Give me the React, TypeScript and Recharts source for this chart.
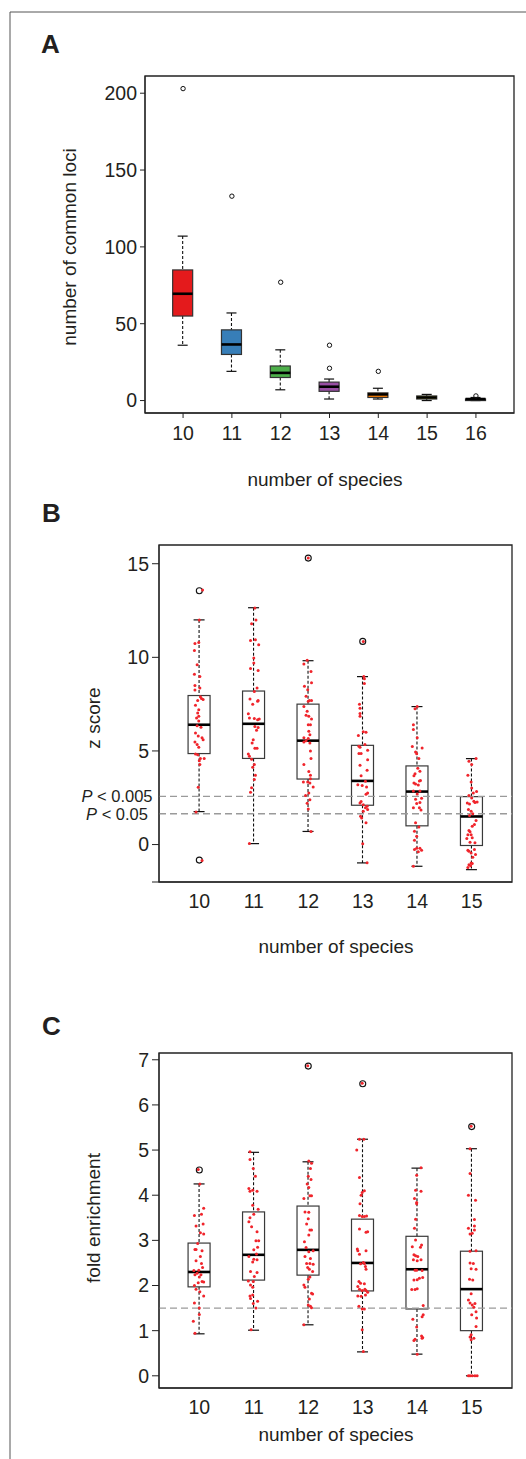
import React from "react";
import { ComposedChart, Bar, Scatter, XAxis, YAxis, ReferenceLine, ReferenceArea } from "recharts";

const FONT = '"Liberation Sans", Arial, Helvetica, sans-serif';
const INK = "#231F20";

// panel A: number of common loci
const speciesA = ["10", "11", "12", "13", "14", "15", "16"];
const lociLow = [36, 19, 7, 1, 1, 0, 0];
const lociQ1 = [55, 30, 15, 6, 2, 1, 0];
const lociMedian = [69.5, 36.5, 18, 9, 4, 2, 1];
const lociQ3 = [85, 46, 22.5, 12, 5, 3, 1];
const lociHigh = [107, 57, 33, 14, 8, 4, 2];
const lociOutliers = [[203], [133], [77], [21, 36], [19], [], [3]];
const lociColors = ["#E41A1C", "#377EB8", "#4DAF4A", "#984EA3", "#FF7F00", "#FFFF33", "#A65628"];

// panels B and C share the categories
const speciesBC = ["10", "11", "12", "13", "14", "15"];

// panel B: z score
const zLow = [1.76, 0.05, 0.7, -0.98, -1.16, -1.34];
const zQ1 = [4.86, 4.6, 3.5, 2.1, 1.0, -0.05];
const zMedian = [6.4, 6.45, 5.55, 3.4, 2.83, 1.5];
const zQ3 = [7.96, 8.2, 7.5, 5.3, 4.2, 2.56];
const zHigh = [12.0, 12.65, 9.82, 8.97, 7.37, 4.59];
const zOutliers = [[13.56, -0.83], [], [15.3], [10.85], [], []];
const zThresholds = [2.576, 1.645];
// [jitter, z]
const zPoints = [
  [[0.06,13.6],[0,12.0],[-0.08,10.74],[-0.01,10.79],[-0.09,10.36],[-0.04,9.6],[-0.09,9.1],[0.01,8.97],[-0.08,8.5],[-0.08,8.25],[0.01,8.36],[0.02,7.9],[-0.03,7.7],[0.04,7.8],[0.07,7.75],[-0.07,7.44],[-0.01,7.2],[-0.03,7.03],[-0.01,6.85],[-0.05,6.76],[-0.01,6.6],[-0.04,6.35],[0.03,6.27],[-0.07,5.96],[-0.02,5.8],[0.05,5.7],[0.07,5.6],[-0.08,5.48],[-0.04,5.34],[-0.01,5.2],[-0.07,4.84],[-0.03,4.8],[0.02,4.6],[0.09,4.6],[0,4.48],[0.01,4.27],[-0.02,3.06],[-0.06,1.74],[0.05,-0.85]],
  [[0.02,12.64],[-0.04,11.8],[0.04,12.0],[-0.06,10.9],[0.03,10.94],[0.09,10.67],[0,9.96],[0,9.7],[-0.06,9.4],[0.08,9.3],[0.06,8.36],[0.01,8.18],[-0.07,7.77],[0.08,7.7],[-0.02,7.5],[0.07,7.65],[-0.1,6.98],[-0.08,6.76],[0.01,6.73],[0.07,6.67],[0.1,6.7],[0.02,6.3],[0.08,6.25],[0.05,6.1],[-0.01,5.6],[-0.03,5.43],[0.02,5.14],[0.06,5.14],[-0.1,4.84],[-0.08,4.72],[-0.04,4.55],[0.01,4.27],[-0.02,4.13],[0.03,3.7],[0.01,3.47],[-0.04,3.03],[-0.06,2.8],[-0.08,0.05]],
  [[0,15.3],[-0.02,9.84],[-0.08,9.64],[0.05,9.25],[-0.07,8.46],[0.06,8.64],[-0.01,8.27],[-0.04,7.92],[0,7.65],[0.02,7.69],[0.06,7.69],[-0.08,7.38],[-0.02,7.12],[-0.04,6.9],[0.01,6.85],[0.06,6.7],[0,6.4],[0.04,6.4],[0.01,6.05],[0.03,5.87],[-0.08,5.7],[-0.04,5.55],[0,5.66],[0.03,5.43],[-0.08,5.48],[0.04,5.0],[0.05,4.6],[-0.08,4.27],[0.01,3.9],[0.04,3.7],[-0.09,3.34],[-0.01,3.34],[0.04,3.52],[0.03,3.29],[0.09,3.07],[0.01,2.75],[-0.05,2.62],[0.03,2.39],[-0.02,2.2],[0,1.9],[0.05,0.7]],
  [[0.01,10.85],[0.02,8.97],[0.03,8.85],[0.03,8.6],[-0.06,7.5],[-0.05,7.28],[-0.05,7.0],[-0.05,6.85],[-0.08,5.83],[0.06,6.0],[0.01,6.03],[-0.07,5.25],[-0.05,5.2],[0.04,5.34],[0.09,5.04],[-0.07,4.86],[-0.03,4.86],[0.09,4.53],[-0.05,4.23],[-0.03,3.68],[0.08,3.97],[-0.09,3.2],[-0.01,3.16],[0.05,3.38],[0.07,3.07],[0.09,2.75],[0.06,2.69],[-0.03,2.3],[-0.05,2.22],[0.01,2.13],[0.08,2.04],[0.05,1.96],[0.09,1.87],[0.01,1.78],[-0.04,1.51],[-0.02,1.42],[0.06,1.16],[0,0.04],[0.08,-0.97]],
  [[0,7.38],[-0.04,7.25],[-0.07,6.4],[-0.07,6.15],[0,5.7],[-0.09,5.24],[-0.03,4.94],[0.09,5.16],[-0.01,4.85],[0.03,4.6],[0.01,4.07],[-0.04,3.78],[-0.06,3.67],[-0.03,3.23],[-0.06,3.29],[0.05,3.92],[0.06,3.42],[0.04,3.4],[0.02,3.18],[-0.07,2.86],[0.05,2.86],[0,2.7],[-0.03,2.42],[0.08,2.47],[0.05,2.24],[-0.01,2.19],[-0.07,1.97],[0.04,1.97],[0.07,1.85],[-0.03,1.16],[0.03,0.94],[-0.05,0.71],[-0.01,0.44],[-0.05,0.23],[-0.01,-0.2],[-0.05,-0.27],[0.05,-0.2],[0.08,-0.3],[0.02,-0.38],[-0.07,-1.16]],
  [[0.08,4.59],[-0.05,4.45],[0,4.27],[-0.07,3.7],[-0.01,3.34],[0,3.02],[0.03,2.75],[0.09,2.84],[-0.05,2.62],[0,2.48],[0.06,2.25],[-0.08,2.22],[-0.04,2.17],[0.04,2.31],[0.1,2.27],[-0.06,1.87],[-0.01,1.78],[0.02,1.64],[-0.04,1.55],[0.08,1.28],[0.05,1.07],[0.01,0.98],[-0.05,0.75],[-0.03,0.68],[-0.07,0.53],[-0.01,0.53],[0.01,0.36],[-0.09,0.32],[-0.03,0.12],[0.06,0.09],[-0.07,-0.3],[-0.05,-0.36],[-0.01,-0.45],[0.07,-0.53],[0.02,-0.68],[0.05,-0.27],[-0.01,-0.99],[-0.05,-1.08],[-0.02,-1.13],[-0.07,-1.22],[0.01,-1.01]],
];

// panel C: fold enrichment
const foldLow = [0.93, 1.01, 1.13, 0.53, 0.48, 0];
const foldQ1 = [1.97, 2.12, 2.23, 1.88, 1.48, 1.0];
const foldMedian = [2.3, 2.68, 2.79, 2.5, 2.36, 1.92];
const foldQ3 = [2.94, 3.63, 3.76, 3.47, 3.09, 2.76];
const foldHigh = [4.25, 4.95, 4.74, 5.24, 4.6, 5.03];
const foldOutliers = [[4.56], [], [6.86], [6.47], [], [5.52]];
const foldThreshold = 1.5;
const foldPoints = [
  [[-0.02,4.57],[0.01,4.25],[0.08,3.71],[-0.09,3.55],[0.04,3.58],[-0.06,3.32],[0.07,3.36],[0.02,3.17],[0.08,3.14],[-0.03,2.93],[-0.08,2.8],[-0.06,2.8],[0.05,2.77],[0.02,2.64],[0.04,2.49],[-0.06,2.55],[0.06,2.4],[-0.1,2.33],[-0.01,2.34],[-0.08,2.24],[-0.04,2.27],[0,2.19],[0.03,2.24],[-0.02,2.06],[-0.09,2.0],[0.05,2.09],[0.08,2.08],[-0.06,1.92],[0.01,1.86],[0.08,1.77],[-0.09,1.61],[0,1.5],[0,1.36],[-0.11,1.21],[-0.08,0.94]],
  [[-0.07,4.96],[-0.07,4.79],[-0.01,4.59],[0.03,4.42],[-0.09,4.15],[-0.02,4.11],[0.06,4.09],[-0.07,4.09],[-0.02,3.78],[0.08,3.69],[0,3.58],[-0.07,3.5],[-0.09,3.41],[-0.04,3.3],[0.06,3.19],[0.04,2.99],[0.09,2.99],[0.07,2.85],[0,2.79],[0.05,2.7],[-0.09,2.64],[0,2.58],[0.06,2.57],[-0.02,2.52],[-0.06,2.31],[0.06,2.29],[0.01,2.2],[-0.01,2.09],[-0.1,2.1],[-0.06,2.01],[-0.02,1.96],[-0.07,1.77],[-0.02,1.79],[-0.06,1.71],[-0.01,1.6],[0.07,1.65],[0.04,1.5],[-0.05,1.02]],
  [[-0.01,6.87],[0.01,4.76],[0.06,4.71],[0.04,4.59],[0,4.42],[0.05,4.35],[-0.02,4.25],[0.01,4.17],[-0.08,3.93],[0.03,3.99],[0.06,3.99],[-0.06,3.63],[0.01,3.62],[0,3.48],[-0.03,3.36],[0.03,3.23],[0.06,3.23],[0.01,3.12],[-0.07,2.97],[-0.04,2.84],[0.01,2.75],[0.09,2.77],[-0.06,2.64],[0.04,2.6],[-0.03,2.49],[0.03,2.49],[0.09,2.47],[-0.01,2.4],[0.02,2.36],[0.08,2.31],[0.03,2.19],[0,2.14],[-0.08,2.01],[-0.06,1.96],[0.06,1.83],[0.08,1.81],[0.02,1.7],[0,1.57],[0.04,1.54],[0.06,1.51],[-0.08,1.13]],
  [[-0.01,6.48],[-0.06,5.24],[0.02,5.24],[-0.11,5.0],[-0.06,4.39],[0.03,4.1],[-0.01,4.06],[-0.03,4.0],[-0.05,3.81],[-0.06,3.55],[-0.01,3.53],[0.03,3.53],[0.07,3.54],[-0.06,3.25],[0.06,3.18],[0.09,3.19],[-0.1,2.81],[-0.09,2.77],[0.06,2.77],[-0.06,2.69],[0.01,2.51],[0.03,2.49],[-0.04,2.48],[0.05,2.42],[0.06,2.36],[-0.07,2.09],[-0.04,2.05],[-0.09,1.98],[0.03,2.04],[-0.06,1.92],[0.04,1.92],[-0.01,1.89],[0.06,1.89],[0.09,1.85],[-0.03,1.76],[-0.09,1.77],[0.05,1.79],[-0.07,1.54],[-0.01,1.48],[0.03,1.48],[-0.01,1.02],[0.01,0.54]],
  [[0.07,4.61],[-0.01,4.44],[-0.03,4.11],[0.07,4.09],[-0.05,3.93],[-0.01,3.84],[-0.01,3.81],[-0.03,3.47],[-0.05,3.27],[-0.03,3.01],[-0.09,2.86],[0.08,2.9],[0.06,2.85],[-0.06,2.68],[-0.03,2.66],[0.01,2.64],[-0.07,2.57],[0,2.55],[0.07,2.57],[-0.04,2.34],[-0.01,2.34],[0.09,2.33],[-0.06,2.12],[0,2.13],[0.04,2.16],[0.1,2.18],[-0.1,1.91],[-0.04,1.91],[0,1.93],[0.11,1.56],[-0.08,1.25],[0.09,1.31],[0.11,1.35],[-0.01,1.08],[-0.04,0.81],[-0.06,0.78],[0.08,0.88],[0.1,0.85],[0.09,0.83],[0,0.48]],
  [[-0.01,5.53],[-0.03,5.03],[-0.03,4.48],[-0.06,4.0],[0.07,3.89],[0.05,3.46],[-0.06,3.27],[0.05,3.32],[0.05,3.23],[0.01,3.16],[-0.03,3.14],[0.08,2.77],[-0.03,2.76],[-0.03,2.5],[0.03,2.49],[-0.01,2.37],[0.08,2.36],[-0.04,2.14],[0.02,2.12],[-0.01,1.82],[-0.06,1.68],[-0.03,1.61],[0.01,1.57],[0.06,1.6],[0.04,1.52],[0.08,1.42],[0,1.35],[0.09,1.28],[0.08,1.09],[-0.01,0.91],[-0.03,0.86],[-0.01,0.8],[0.04,0.83],[-0.06,0],[-0.03,0],[0.01,0],[0.06,0],[0.1,0]],
];

const boxRows = (low: number[], q1: number[], med: number[], q3: number[], high: number[], colors?: string[]) =>
  low.map((lo, i) => ({
    pos: i + 1,
    range: [lo, high[i]],
    lo,
    q1: q1[i],
    med: med[i],
    q3: q3[i],
    hi: high[i],
    color: colors ? colors[i] : "none",
  }));

const outlierRows = (groups: number[][]) => groups.flatMap((vals, i) => vals.map((value) => ({ pos: i + 1, value })));
const pointRows = (groups: number[][][]) => groups.flatMap((pts, i) => pts.map(([dx, value]) => ({ pos: i + 1 + dx, value })));

function BoxShape(props: any) {
  const { x, y, width, height, payload, boxStroke } = props;
  if (!payload) return null;
  const { lo, q1, med, q3, hi, color } = payload;
  const top = Math.min(y, y + height);
  const h = Math.abs(height);
  const span = hi - lo || 1;
  const py = (v: number) => top + (h * (hi - v)) / span;
  const cx = x + width / 2;
  const cap = width / 4;
  return (
    <g>
      <line x1={cx} x2={cx} y1={py(hi)} y2={py(q3)} stroke="#111" strokeWidth={1.1} strokeDasharray="3 2" />
      <line x1={cx} x2={cx} y1={py(q1)} y2={py(lo)} stroke="#111" strokeWidth={1.1} strokeDasharray="3 2" />
      <line x1={cx - cap} x2={cx + cap} y1={py(hi)} y2={py(hi)} stroke="#111" strokeWidth={1.2} />
      <line x1={cx - cap} x2={cx + cap} y1={py(lo)} y2={py(lo)} stroke="#111" strokeWidth={1.2} />
      <rect x={x} y={py(q3)} width={width} height={Math.max(py(q1) - py(q3), 0.5)} fill={color} stroke={boxStroke} strokeWidth={1.2} />
      <line x1={x} x2={x + width} y1={py(med)} y2={py(med)} stroke="#000" strokeWidth={2.6} />
    </g>
  );
}

const RedDot = (p: any) => <circle cx={p.cx} cy={p.cy} r={1.5} fill="#F0242B" />;
const SmallRing = (p: any) => <circle cx={p.cx} cy={p.cy} r={2.2} fill="none" stroke="#111" strokeWidth={1} />;
const Ring = (p: any) => <circle cx={p.cx} cy={p.cy} r={3} fill="none" stroke="#111" strokeWidth={1.1} />;

const tickStyle = { fontSize: 19.5, fill: INK, fontFamily: FONT };

function PanelA() {
  const domainX: [number, number] = [0.22, 7.78];
  const domainY: [number, number] = [-8.1, 211.2];
  return (
    <ComposedChart width={526} height={500} data={boxRows(lociLow, lociQ1, lociMedian, lociQ3, lociHigh, lociColors)} margin={{ top: 76, right: 12, bottom: 37, left: 65 }}>
      <XAxis dataKey="pos" type="number" domain={domainX} ticks={[1, 2, 3, 4, 5, 6, 7]} allowDataOverflow tickFormatter={(v) => speciesA[v - 1]} tick={tickStyle} tickSize={5} tickMargin={8} height={50} stroke="#222" />
      <XAxis xAxisId="box" dataKey="pos" type="number" domain={domainX} ticks={[1, 2, 3, 4, 5, 6, 7]} allowDataOverflow hide />
      <YAxis type="number" domain={domainY} ticks={[0, 50, 100, 150, 200]} allowDataOverflow tick={tickStyle} tickSize={5} tickMargin={3} width={80} stroke="#222" />
      <ReferenceArea x1={domainX[0]} x2={domainX[1]} y1={domainY[0]} y2={domainY[1]} fill="none" stroke="#222" strokeWidth={1.3} fillOpacity={0} />
      <Bar xAxisId="box" dataKey="range" barSize={20} isAnimationActive={false} shape={(p: any) => <BoxShape {...p} boxStroke="#333" />} />
      <Scatter data={outlierRows(lociOutliers)} dataKey="value" shape={SmallRing} isAnimationActive={false} />
    </ComposedChart>
  );
}

function PanelBC({ low, q1, med, q3, high, outliers, points, domainY, ticks, thresholds, top, height, marginTop, marginBottom }: any) {
  const domainX: [number, number] = [0.26, 6.74];
  return (
    <div style={{ position: "absolute", left: 0, top }}>
      <ComposedChart width={526} height={height} data={boxRows(low, q1, med, q3, high)} margin={{ top: marginTop, right: 14, bottom: marginBottom, left: 79 }}>
        <XAxis dataKey="pos" type="number" domain={domainX} ticks={[1, 2, 3, 4, 5, 6]} allowDataOverflow tickFormatter={(v) => speciesBC[v - 1]} tick={tickStyle} tickLine={false} tickSize={0} tickMargin={12} height={30} stroke="#222" />
        <XAxis xAxisId="box" dataKey="pos" type="number" domain={domainX} ticks={[1, 2, 3, 4, 5, 6]} allowDataOverflow hide />
        <YAxis type="number" domain={domainY} ticks={ticks} allowDataOverflow tickFormatter={(v) => (v < 0 ? "" : String(v))} tick={tickStyle} tickSize={7} tickMargin={3} width={80} stroke="#222" />
        <ReferenceArea x1={domainX[0]} x2={domainX[1]} y1={domainY[0]} y2={domainY[1]} fill="none" stroke="#222" strokeWidth={1.3} fillOpacity={0} />
        {thresholds.map((t: number) => (
          <ReferenceLine key={t} y={t} stroke="#9A9A9A" strokeWidth={1.3} strokeDasharray="7 4" />
        ))}
        <Bar xAxisId="box" dataKey="range" barSize={22} isAnimationActive={false} shape={(p: any) => <BoxShape {...p} boxStroke="#3a3a3a" />} />
        <Scatter data={outlierRows(outliers)} dataKey="value" shape={Ring} isAnimationActive={false} />
        <Scatter data={pointRows(points)} dataKey="value" shape={RedDot} isAnimationActive={false} />
      </ComposedChart>
    </div>
  );
}

function Labels() {
  const t = { fontFamily: FONT, fill: INK } as const;
  return (
    <svg width={526} height={1459} style={{ position: "absolute", left: 0, top: 0, pointerEvents: "none" }}>
      <line x1={10} y1={12} x2={526} y2={12} stroke="#555" strokeWidth={1} />
      <line x1={10} y1={12} x2={10} y2={1459} stroke="#555" strokeWidth={1} />
      <text x={41} y={53} fontSize={26} fontWeight="bold" {...t}>A</text>
      <text x={42} y={522} fontSize={26} fontWeight="bold" {...t}>B</text>
      <text x={42} y={1035} fontSize={26} fontWeight="bold" {...t}>C</text>
      <text x={76} y={247} fontSize={19} textAnchor="middle" transform="rotate(-90 76 247)" {...t}>number of common loci</text>
      <text x={325} y={486} fontSize={19} textAnchor="middle" {...t}>number of species</text>
      <text x={100} y={718} fontSize={19} textAnchor="middle" transform="rotate(-90 100 718)" {...t}>z score</text>
      <text x={336} y={953} fontSize={19} textAnchor="middle" {...t}>number of species</text>
      <text x={100} y={1218} fontSize={19} textAnchor="middle" transform="rotate(-90 100 1218)" {...t}>fold enrichment</text>
      <text x={336} y={1441} fontSize={19} textAnchor="middle" {...t}>number of species</text>
      <text x={117} y={802} fontSize={16.5} textAnchor="middle" {...t}>
        <tspan fontStyle="italic">P</tspan> &lt; 0.005
      </text>
      <text x={117} y={820} fontSize={16.5} textAnchor="middle" {...t}>
        <tspan fontStyle="italic">P</tspan> &lt; 0.05
      </text>
    </svg>
  );
}

export default function App() {
  return (
    <div style={{ position: "absolute", left: 0, top: 0, width: 526, height: 1459, background: "#fff", overflow: "hidden" }}>
      <div style={{ position: "absolute", left: 0, top: 0 }}>
        <PanelA />
      </div>
      <PanelBC low={zLow} q1={zQ1} med={zMedian} q3={zQ3} high={zHigh} outliers={zOutliers} points={zPoints} domainY={[-2, 16]} ticks={[-2, 0, 5, 10, 15]} thresholds={zThresholds} top={500} height={420} marginTop={45} marginBottom={8} />
      <PanelBC low={foldLow} q1={foldQ1} med={foldMedian} q3={foldQ3} high={foldHigh} outliers={foldOutliers} points={foldPoints} domainY={[-0.27, 7.15]} ticks={[-0.27, 0, 1, 2, 3, 4, 5, 6, 7]} thresholds={[foldThreshold]} top={980} height={440} marginTop={73} marginBottom={2} />
      <Labels />
    </div>
  );
}
